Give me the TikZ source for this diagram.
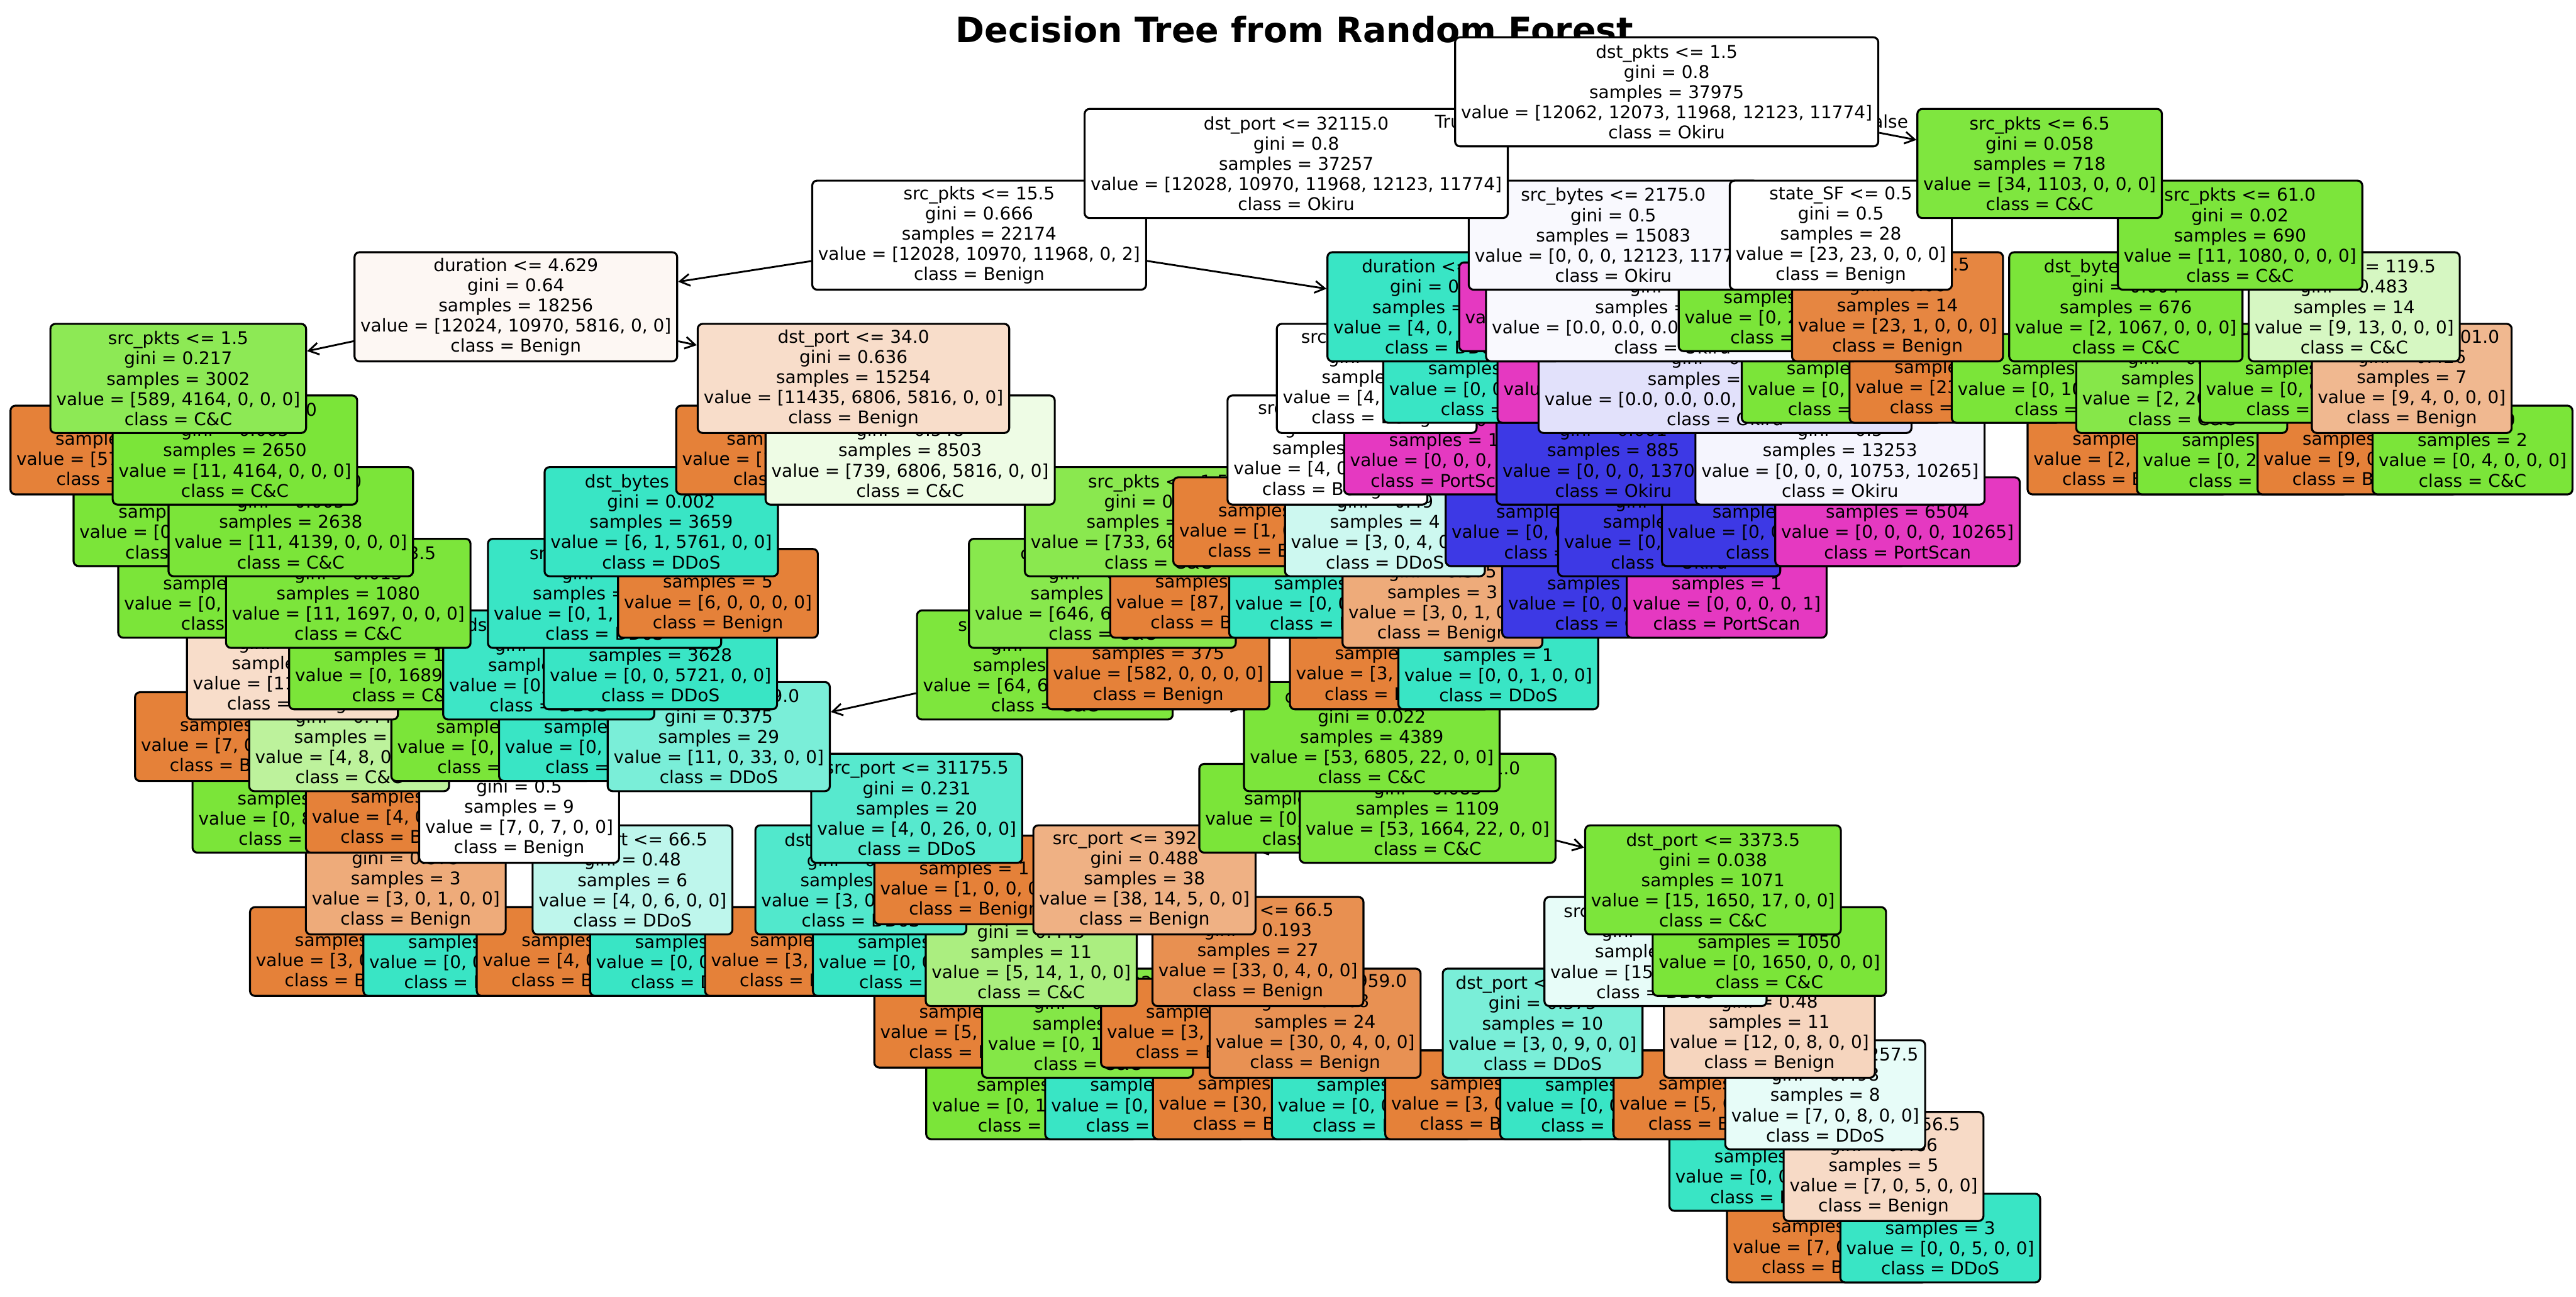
\documentclass[tikz,border=0pt]{standalone}
\usepackage{fontspec}
\setmainfont{DejaVu Sans}
\usetikzlibrary{arrows.meta}
\definecolor{cB}{RGB}{229,129,57}
\definecolor{cC}{RGB}{123,229,57}
\definecolor{cD}{RGB}{57,229,197}
\definecolor{cO}{RGB}{61,57,229}
\definecolor{cP}{RGB}{229,57,193}
\pgfdeclarelayer{bg}
\pgfdeclarelayer{A16}\pgfdeclarelayer{L16}
\pgfdeclarelayer{A15}\pgfdeclarelayer{L15}
\pgfdeclarelayer{A14}\pgfdeclarelayer{L14}
\pgfdeclarelayer{A13}\pgfdeclarelayer{L13}
\pgfdeclarelayer{A12}\pgfdeclarelayer{L12}
\pgfdeclarelayer{A11}\pgfdeclarelayer{L11}
\pgfdeclarelayer{A10}\pgfdeclarelayer{L10}
\pgfdeclarelayer{A9}\pgfdeclarelayer{L9}
\pgfdeclarelayer{A8}\pgfdeclarelayer{L8}
\pgfdeclarelayer{A7}\pgfdeclarelayer{L7}
\pgfdeclarelayer{A6}\pgfdeclarelayer{L6}
\pgfdeclarelayer{A5}\pgfdeclarelayer{L5}
\pgfdeclarelayer{A4}\pgfdeclarelayer{L4}
\pgfdeclarelayer{A3}\pgfdeclarelayer{L3}
\pgfdeclarelayer{A2}\pgfdeclarelayer{L2}
\pgfdeclarelayer{A1}\pgfdeclarelayer{L1}
\pgfdeclarelayer{A0}\pgfdeclarelayer{L0}
\pgfsetlayers{bg,A16,L16,A15,L15,A14,L14,A13,L13,A12,L12,A11,L11,A10,L10,A9,L9,A8,L8,A7,L7,A6,L6,A5,L5,A4,L4,A3,L3,A2,L2,A1,L1,A0,L0,main}
\tikzset{
  tbox/.style={draw=black, line width=0.6mm, rounded corners=1.5mm, align=center,
    font=\fontsize{15.2pt}{17.5pt}\selectfont, inner xsep=1.8mm, inner ysep=0.6mm},
  inode/.style={tbox, minimum height=33.2mm},
  lnode/.style={tbox, minimum height=27mm},
  arr/.style={line width=0.55mm, -{Straight Barb[length=3mm,width=3.6mm]}},
  edgelbl/.style={font=\fontsize{15.2pt}{17.5pt}\selectfont, inner sep=0pt, anchor=base},
  titlestyle/.style={font=\bfseries\fontsize{30.2pt}{36pt}\selectfont, inner sep=0pt, anchor=base}
}
% internal node: depth, name, parent, x, fill, text
\newcommand\TNode[6]{%
  \begin{pgfonlayer}{L#1}\node[inode,fill=#5] (#2) at (#4,{55.9+43.6*#1}) {#6};\end{pgfonlayer}%
  \begin{pgfonlayer}{A#1}\draw[arr] (#3) -- (#2);\end{pgfonlayer}}
% leaf node
\newcommand\TLeaf[6]{%
  \begin{pgfonlayer}{L#1}\node[lnode,fill=#5] (#2) at (#4,{55.9+43.6*#1}) {#6};\end{pgfonlayer}%
  \begin{pgfonlayer}{A#1}\draw[arr] (#3) -- (#2);\end{pgfonlayer}}
\begin{document}
\begin{tikzpicture}[x=0.5mm, y=-0.5mm]
\useasboundingbox (0,0) rectangle (1568,789);
\begin{pgfonlayer}{bg}
  \fill[white] (0,0) rectangle (1568,789);
  \node[titlestyle] (title) at (788,26) {Decision Tree from Random Forest};
\end{pgfonlayer}
% depth 0
\begin{pgfonlayer}{L0}
\node[inode,fill=white] (R) at (1014.5,55.9) {dst\_pkts <= 1.5\\gini = 0.8\\samples = 37975\\value = [12062, 12073, 11968, 12123, 11774]\\class = Okiru};
\end{pgfonlayer}
% depth 1
\TNode{1}{A}{R}{789}{white}{dst\_port <= 32115.0\\gini = 0.8\\samples = 37257\\value = [12028, 10970, 11968, 12123, 11774]\\class = Okiru}
\TNode{1}{B}{R}{1241.5}{cC!97}{src\_pkts <= 6.5\\gini = 0.058\\samples = 718\\value = [34, 1103, 0, 0, 0]\\class = C\&C}
\begin{pgfonlayer}{A0}
\node[edgelbl] (lblT) at (884.8,78) {True};
\node[edgelbl] (lblF) at (1148,78) {False};
\end{pgfonlayer}
% depth 2
\TNode{2}{AL}{A}{596}{white}{src\_pkts <= 15.5\\gini = 0.666\\samples = 22174\\value = [12028, 10970, 11968, 0, 2]\\class = Benign}
\TNode{2}{AR}{A}{982}{cO!3}{src\_bytes <= 2175.0\\gini = 0.5\\samples = 15083\\value = [0, 0, 0, 12123, 11774]\\class = Okiru}
\TNode{2}{BL}{B}{1120.5}{white}{state\_SF <= 0.5\\gini = 0.5\\samples = 28\\value = [23, 23, 0, 0, 0]\\class = Benign}
\TNode{2}{BR}{B}{1363.5}{cC!99}{src\_pkts <= 61.0\\gini = 0.02\\samples = 690\\value = [11, 1080, 0, 0, 0]\\class = C\&C}
% depth 3
\TNode{3}{c1}{AL}{314}{cB!6}{duration <= 4.629\\gini = 0.64\\samples = 18256\\value = [12024, 10970, 5816, 0, 0]\\class = Benign}
\TNode{3}{c2}{AL}{879}{cD}{duration <= 0.001\\gini = 0.002\\samples = 3898\\value = [4, 0, 6152, 0, 2]\\class = DDoS}
\TLeaf{3}{c3}{AR}{949}{cP}{gini = 0.0\\samples = 4\\value = [0, 0, 0, 0, 7]\\class = PortScan}
\TNode{3}{c4}{AR}{1018}{cO!3}{dst\_bytes <= 1.5\\gini = 0.5\\samples = 15079\\value = [0.0, 0.0, 0.0, 12123.0, 11767.0]\\class = Okiru}
\TLeaf{3}{c5}{BL}{1086}{cC}{gini = 0.0\\samples = 12\\value = [0, 22, 0, 0, 0]\\class = C\&C}
\TNode{3}{c6}{BL}{1155}{cB!96}{state\_S0 <= 0.5\\gini = 0.08\\samples = 14\\value = [23, 1, 0, 0, 0]\\class = Benign}
\TNode{3}{c7}{BR}{1294}{cC}{dst\_bytes <= 12.5\\gini = 0.004\\samples = 676\\value = [2, 1067, 0, 0, 0]\\class = C\&C}
\TNode{3}{c8}{BR}{1433}{cC!31}{dst\_port <= 119.5\\gini = 0.483\\samples = 14\\value = [9, 13, 0, 0, 0]\\class = C\&C}
% depth 4
\TNode{4}{e1}{c1}{108.5}{cC!86}{src\_pkts <= 1.5\\gini = 0.217\\samples = 3002\\value = [589, 4164, 0, 0, 0]\\class = C\&C}
\TNode{4}{e2}{c1}{519.5}{cB!27}{dst\_port <= 34.0\\gini = 0.636\\samples = 15254\\value = [11435, 6806, 5816, 0, 0]\\class = Benign}
\TNode{4}{e3}{c2}{838}{white}{src\_bytes <= 7.5\\gini = 0.64\\samples = 6\\value = [4, 0, 4, 0, 2]\\class = Benign}
\TLeaf{4}{e4}{c2}{913}{cD}{gini = 0.0\\samples = 3892\\value = [0, 0, 6148, 0, 0]\\class = DDoS}
\TLeaf{4}{e5}{c4}{1008}{cP}{gini = 0.0\\samples = 941\\value = [0.0, 0.0, 0.0, 0.0, 1501.0]\\class = PortScan}
\TNode{4}{e6}{c4}{1050}{cO!15}{src\_bytes <= 73.0\\gini = 0.497\\samples = 14138\\value = [0.0, 0.0, 0.0, 12123.0, 10266.0]\\class = Okiru}
\TLeaf{4}{e7}{c6}{1121}{cC}{gini = 0.0\\samples = 1\\value = [0, 1, 0, 0, 0]\\class = C\&C}
\TLeaf{4}{e8}{c6}{1190}{cB}{gini = 0.0\\samples = 13\\value = [23, 0, 0, 0, 0]\\class = Benign}
\TLeaf{4}{e9}{c7}{1259}{cC}{gini = 0.0\\samples = 660\\value = [0, 1041, 0, 0, 0]\\class = C\&C}
\TNode{4}{e10}{c7}{1328}{cC!92}{src\_port <= 52.5\\gini = 0.133\\samples = 16\\value = [2, 26, 0, 0, 0]\\class = C\&C}
\TLeaf{4}{e11}{c8}{1400}{cC}{gini = 0.0\\samples = 5\\value = [0, 9, 0, 0, 0]\\class = C\&C}
\TNode{4}{e12}{c8}{1468}{cB!56}{dst\_bytes <= 201.0\\gini = 0.426\\samples = 7\\value = [9, 4, 0, 0, 0]\\class = Benign}
% depth 5
\TLeaf{5}{f1}{e1}{74}{cB}{gini = 0.0\\samples = 352\\value = [578, 0, 0, 0, 0]\\class = Benign}
\TNode{5}{f2}{e1}{143}{cC}{dst\_bytes <= 40.0\\gini = 0.005\\samples = 2650\\value = [11, 4164, 0, 0, 0]\\class = C\&C}
\TLeaf{5}{f3}{e2}{486}{cB}{gini = 0.0\\samples = 6751\\value = [10696, 0, 0, 0, 0]\\class = Benign}
\TNode{5}{f4}{e2}{554}{cC!13}{src\_bytes <= 1.5\\gini = 0.548\\samples = 8503\\value = [739, 6806, 5816, 0, 0]\\class = C\&C}
\TNode{5}{f5}{e3}{808}{white}{src\_port <= 5.5\\gini = 0.5\\samples = 5\\value = [4, 0, 4, 0, 0]\\class = Benign}
\TLeaf{5}{f6}{e3}{879}{cP}{gini = 0.0\\samples = 1\\value = [0, 0, 0, 0, 2]\\class = PortScan}
\TNode{5}{f7}{e6}{982}{cO}{dst\_bytes <= 0.5\\gini = 0.001\\samples = 885\\value = [0, 0, 0, 1370, 1]\\class = Okiru}
\TNode{5}{f8}{e6}{1120}{cO!5}{src\_pkts <= 3.5\\gini = 0.5\\samples = 13253\\value = [0, 0, 0, 10753, 10265]\\class = Okiru}
\TLeaf{5}{f9}{e10}{1295}{cB}{gini = 0.0\\samples = 2\\value = [2, 0, 0, 0, 0]\\class = Benign}
\TLeaf{5}{f10}{e10}{1365}{cC}{gini = 0.0\\samples = 14\\value = [0, 26, 0, 0, 0]\\class = C\&C}
\TLeaf{5}{f11}{e12}{1435}{cB}{gini = 0.0\\samples = 5\\value = [9, 0, 0, 0, 0]\\class = Benign}
\TLeaf{5}{f12}{e12}{1505}{cC}{gini = 0.0\\samples = 2\\value = [0, 4, 0, 0, 0]\\class = C\&C}
% depth 6
\TLeaf{6}{g1}{f2}{109}{cC}{gini = 0.0\\samples = 16\\value = [0, 25, 0, 0, 0]\\class = C\&C}
\TNode{6}{g2}{f2}{177}{cC}{dst\_pkts <= 3.0\\gini = 0.005\\samples = 2638\\value = [11, 4139, 0, 0, 0]\\class = C\&C}
\TNode{6}{g3}{f4}{402.5}{cD}{dst\_bytes <= 4.5\\gini = 0.002\\samples = 3659\\value = [6, 1, 5761, 0, 0]\\class = DDoS}
\TNode{6}{g4}{f4}{705}{cC!89}{src\_pkts <= 1.5\\gini = 0.187\\samples = 4840\\value = [733, 6805, 55, 0, 0]\\class = C\&C}
\TLeaf{6}{g5}{f5}{775}{cB}{gini = 0.0\\samples = 1\\value = [1, 0, 0, 0, 0]\\class = Benign}
\TNode{6}{g6}{f5}{843}{cD!25}{dst\_port <= 2.5\\gini = 0.49\\samples = 4\\value = [3, 0, 4, 0, 0]\\class = DDoS}
\TLeaf{6}{g7}{f7}{951}{cO}{gini = 0.0\\samples = 702\\value = [0, 0, 0, 1097, 0]\\class = Okiru}
\TNode{6}{g8}{f7}{1016}{cO}{src\_bytes <= 1110.0\\gini = 0.007\\samples = 183\\value = [0, 0, 0, 273, 1]\\class = Okiru}
\TLeaf{6}{g9}{f8}{1086}{cO}{gini = 0.0\\samples = 6749\\value = [0, 0, 0, 10753, 0]\\class = Okiru}
\TLeaf{6}{g10}{f8}{1155}{cP}{gini = 0.0\\samples = 6504\\value = [0, 0, 0, 0, 10265]\\class = PortScan}
% depth 7
\TLeaf{7}{h1}{g2}{143}{cC}{gini = 0.0\\samples = 1545\\value = [0, 2442, 0, 0, 0]\\class = C\&C}
\TNode{7}{h2}{g2}{212}{cC!99}{dst\_bytes <= 283.5\\gini = 0.013\\samples = 1080\\value = [11, 1697, 0, 0, 0]\\class = C\&C}
\TNode{7}{h3}{g3}{368}{cD}{src\_port <= 65.0\\gini = 0.0\\samples = 3654\\value = [0, 1, 5761, 0, 0]\\class = DDoS}
\TLeaf{7}{h4}{g3}{437}{cB}{gini = 0.0\\samples = 5\\value = [6, 0, 0, 0, 0]\\class = Benign}
\TNode{7}{h5}{g4}{671}{cC!90}{dst\_bytes <= 60.5\\gini = 0.171\\samples = 4785\\value = [646, 6805, 55, 0, 0]\\class = C\&C}
\TLeaf{7}{h6}{g4}{740}{cB}{gini = 0.0\\samples = 55\\value = [87, 0, 0, 0, 0]\\class = Benign}
\TLeaf{7}{h7}{g6}{809}{cD}{gini = 0.0\\samples = 1\\value = [0, 0, 3, 0, 0]\\class = DDoS}
\TNode{7}{h8}{g6}{878}{cB!67}{dst\_bytes <= 1.5\\gini = 0.375\\samples = 3\\value = [3, 0, 1, 0, 0]\\class = Benign}
\TLeaf{7}{h9}{g8}{982}{cO}{gini = 0.0\\samples = 182\\value = [0, 0, 0, 273, 0]\\class = Okiru}
\TLeaf{7}{h10}{g8}{1051}{cP}{gini = 0.0\\samples = 1\\value = [0, 0, 0, 0, 1]\\class = PortScan}
% depth 8
\TNode{8}{i1}{h2}{178}{cB!27}{src\_port <= 6.5\\gini = 0.488\\samples = 14\\value = [11, 8, 0, 0, 0]\\class = Benign}
\TLeaf{8}{i2}{h2}{247}{cC}{gini = 0.0\\samples = 1066\\value = [0, 1689, 0, 0, 0]\\class = C\&C}
\TNode{8}{i3}{h3}{334}{cD!98}{dst\_bytes <= 57.5\\gini = 0.048\\samples = 26\\value = [0, 1, 40, 0, 0]\\class = DDoS}
\TLeaf{8}{i4}{h3}{402}{cD}{gini = 0.0\\samples = 3628\\value = [0, 0, 5721, 0, 0]\\class = DDoS}
\TNode{8}{i5}{h5}{636}{cC!98}{src\_bytes <= 155.5\\gini = 0.034\\samples = 4410\\value = [64, 6805, 55, 0, 0]\\class = C\&C}
\TLeaf{8}{i6}{h5}{705}{cB}{gini = 0.0\\samples = 375\\value = [582, 0, 0, 0, 0]\\class = Benign}
\TLeaf{8}{i7}{h8}{846}{cB}{gini = 0.0\\samples = 2\\value = [3, 0, 0, 0, 0]\\class = Benign}
\TLeaf{8}{i8}{h8}{912}{cD}{gini = 0.0\\samples = 1\\value = [0, 0, 1, 0, 0]\\class = DDoS}
% depth 9
\TLeaf{9}{j1}{i1}{143}{cB}{gini = 0.0\\samples = 5\\value = [7, 0, 0, 0, 0]\\class = Benign}
\TNode{9}{j2}{i1}{212.5}{cC!50}{src\_pkts <= 7.5\\gini = 0.444\\samples = 9\\value = [4, 8, 0, 0, 0]\\class = C\&C}
\TLeaf{9}{j3}{i3}{299}{cC}{gini = 0.0\\samples = 1\\value = [0, 1, 0, 0, 0]\\class = C\&C}
\TLeaf{9}{j4}{i3}{368}{cD}{gini = 0.0\\samples = 25\\value = [0, 0, 40, 0, 0]\\class = DDoS}
\TNode{9}{j5}{i5}{437.5}{cD!67}{src\_port <= 579.0\\gini = 0.375\\samples = 29\\value = [11, 0, 33, 0, 0]\\class = DDoS}
\TNode{9}{j6}{i5}{835}{cC!99}{dst\_port <= 3559.0\\gini = 0.022\\samples = 4389\\value = [53, 6805, 22, 0, 0]\\class = C\&C}
% depth 10
\TLeaf{10}{k1}{j2}{178}{cC}{gini = 0.0\\samples = 5\\value = [0, 8, 0, 0, 0]\\class = C\&C}
\TLeaf{10}{k2}{j2}{247}{cB}{gini = 0.0\\samples = 4\\value = [4, 0, 0, 0, 0]\\class = Benign}
\TNode{10}{k3}{j5}{316}{white}{dst\_pkts <= 5.5\\gini = 0.5\\samples = 9\\value = [7, 0, 7, 0, 0]\\class = Benign}
\TNode{10}{k4}{j5}{558}{cD!85}{src\_port <= 31175.5\\gini = 0.231\\samples = 20\\value = [4, 0, 26, 0, 0]\\class = DDoS}
\TLeaf{10}{k5}{j6}{801}{cC}{gini = 0.0\\samples = 3280\\value = [0, 5141, 0, 0, 0]\\class = C\&C}
\TNode{10}{k6}{j6}{869}{cC!97}{dst\_port <= 52001.0\\gini = 0.083\\samples = 1109\\value = [53, 1664, 22, 0, 0]\\class = C\&C}
% depth 11
\TNode{11}{l1}{k3}{247}{cB!67}{src\_bytes <= 37.5\\gini = 0.375\\samples = 3\\value = [3, 0, 1, 0, 0]\\class = Benign}
\TNode{11}{l2}{k3}{385}{cD!33}{src\_port <= 66.5\\gini = 0.48\\samples = 6\\value = [4, 0, 6, 0, 0]\\class = DDoS}
\TNode{11}{l3}{k4}{524}{cD!88}{dst\_bytes <= 5.0\\gini = 0.185\\samples = 19\\value = [3, 0, 26, 0, 0]\\class = DDoS}
\TLeaf{11}{l4}{k4}{593}{cB}{gini = 0.0\\samples = 1\\value = [1, 0, 0, 0, 0]\\class = Benign}
\TNode{11}{l5}{k6}{696.6}{cB!62}{src\_port <= 39211.5\\gini = 0.488\\samples = 38\\value = [38, 14, 5, 0, 0]\\class = Benign}
\TNode{11}{l6}{k6}{1042.7}{cC!99}{dst\_port <= 3373.5\\gini = 0.038\\samples = 1071\\value = [15, 1650, 17, 0, 0]\\class = C\&C}
% depth 12
\TLeaf{12}{m1}{l1}{213}{cB}{gini = 0.0\\samples = 2\\value = [3, 0, 0, 0, 0]\\class = Benign}
\TLeaf{12}{m2}{l1}{282}{cD}{gini = 0.0\\samples = 1\\value = [0, 0, 1, 0, 0]\\class = DDoS}
\TLeaf{12}{m3}{l2}{351}{cB}{gini = 0.0\\samples = 2\\value = [4, 0, 0, 0, 0]\\class = Benign}
\TLeaf{12}{m4}{l2}{420}{cD}{gini = 0.0\\samples = 4\\value = [0, 0, 6, 0, 0]\\class = DDoS}
\TLeaf{12}{m5}{l3}{490}{cB}{gini = 0.0\\samples = 2\\value = [3, 0, 0, 0, 0]\\class = Benign}
\TLeaf{12}{m6}{l3}{559}{cD}{gini = 0.0\\samples = 17\\value = [0, 0, 26, 0, 0]\\class = DDoS}
\TNode{12}{m7}{l5}{627.7}{cC!64}{dst\_bytes <= 29.5\\gini = 0.445\\samples = 11\\value = [5, 14, 1, 0, 0]\\class = C\&C}
\TNode{12}{m8}{l5}{765.7}{cB!88}{src\_pkts <= 66.5\\gini = 0.193\\samples = 27\\value = [33, 0, 4, 0, 0]\\class = Benign}
\TNode{12}{m9}{l6}{1007.7}{cD!12}{src\_port <= 36427.5\\gini = 0.498\\samples = 21\\value = [15, 0, 17, 0, 0]\\class = DDoS}
\TLeaf{12}{m10}{l6}{1077}{cC}{gini = 0.0\\samples = 1050\\value = [0, 1650, 0, 0, 0]\\class = C\&C}
% depth 13
\TLeaf{13}{n1}{m7}{593}{cB}{gini = 0.0\\samples = 3\\value = [5, 0, 0, 0, 0]\\class = Benign}
\TNode{13}{n2}{m7}{662}{cC!93}{dst\_port <= 102.0\\gini = 0.124\\samples = 8\\value = [0, 14, 1, 0, 0]\\class = C\&C}
\TLeaf{13}{n3}{m8}{731}{cB}{gini = 0.0\\samples = 3\\value = [3, 0, 0, 0, 0]\\class = Benign}
\TNode{13}{n4}{m8}{800.5}{cB!87}{src\_port <= 38959.0\\gini = 0.208\\samples = 24\\value = [30, 0, 4, 0, 0]\\class = Benign}
\TNode{13}{n5}{m9}{939}{cD!67}{dst\_port <= 7587.0\\gini = 0.375\\samples = 10\\value = [3, 0, 9, 0, 0]\\class = DDoS}
\TNode{13}{n6}{m9}{1077}{cB!33}{src\_bytes <= 162.0\\gini = 0.48\\samples = 11\\value = [12, 0, 8, 0, 0]\\class = Benign}
% depth 14
\TLeaf{14}{o1}{n2}{628}{cC}{gini = 0.0\\samples = 7\\value = [0, 14, 0, 0, 0]\\class = C\&C}
\TLeaf{14}{o2}{n2}{697}{cD}{gini = 0.0\\samples = 1\\value = [0, 0, 1, 0, 0]\\class = DDoS}
\TLeaf{14}{o3}{n4}{766}{cB}{gini = 0.0\\samples = 21\\value = [30, 0, 0, 0, 0]\\class = Benign}
\TLeaf{14}{o4}{n4}{835}{cD}{gini = 0.0\\samples = 3\\value = [0, 0, 4, 0, 0]\\class = DDoS}
\TLeaf{14}{o5}{n5}{904}{cB}{gini = 0.0\\samples = 2\\value = [3, 0, 0, 0, 0]\\class = Benign}
\TLeaf{14}{o6}{n5}{974}{cD}{gini = 0.0\\samples = 8\\value = [0, 0, 9, 0, 0]\\class = DDoS}
\TLeaf{14}{o7}{n6}{1043}{cB}{gini = 0.0\\samples = 3\\value = [5, 0, 0, 0, 0]\\class = Benign}
\TNode{14}{o8}{n6}{1111}{cD!12}{dst\_bytes <= 1257.5\\gini = 0.498\\samples = 8\\value = [7, 0, 8, 0, 0]\\class = DDoS}
% depth 15
\TLeaf{15}{p1}{o8}{1077}{cD}{gini = 0.0\\samples = 2\\value = [0, 0, 3, 0, 0]\\class = DDoS}
\TNode{15}{p2}{o8}{1146.5}{cB!29}{dst\_pkts <= 56.5\\gini = 0.486\\samples = 5\\value = [7, 0, 5, 0, 0]\\class = Benign}
% depth 16
\TLeaf{16}{q1}{p2}{1112}{cB}{gini = 0.0\\samples = 2\\value = [7, 0, 0, 0, 0]\\class = Benign}
\TLeaf{16}{q2}{p2}{1181}{cD}{gini = 0.0\\samples = 3\\value = [0, 0, 5, 0, 0]\\class = DDoS}
\end{tikzpicture}
\end{document}
